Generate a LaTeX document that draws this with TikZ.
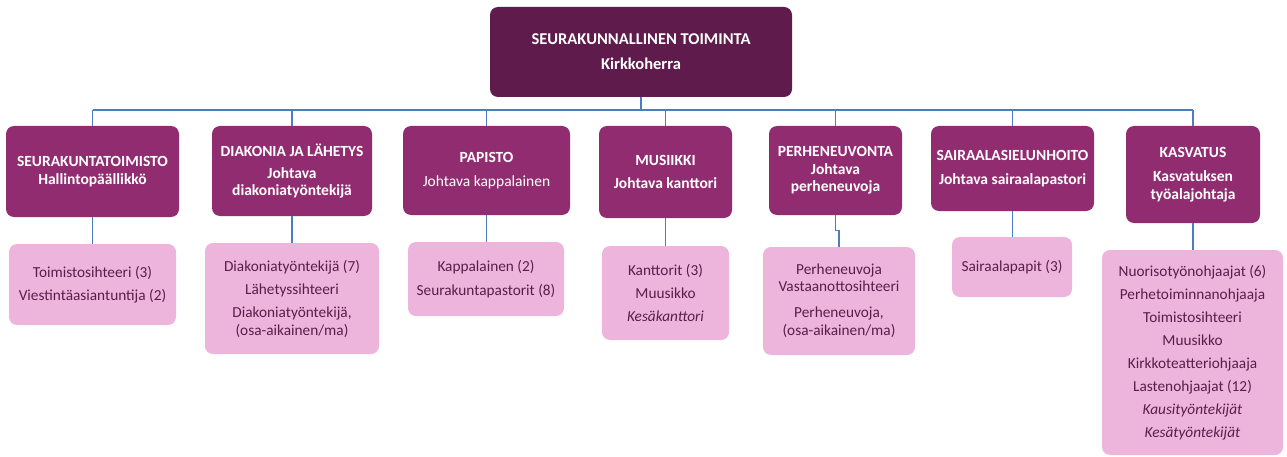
\documentclass[tikz,border=0pt]{standalone}
\usepackage{fontspec}
\setmainfont{Carlito}
\definecolor{topc}{RGB}{94,27,75}
\definecolor{midc}{RGB}{146,44,113}
\definecolor{lowc}{RGB}{237,180,220}
\definecolor{lowtxt}{RGB}{90,30,74}
\definecolor{linec}{RGB}{74,126,192}
\tikzset{
  topbox/.style={fill=topc, text=white, rounded corners=8pt, inner sep=0pt, align=center, font=\fontsize{16.5}{20}\selectfont\bfseries},
  midbox/.style={fill=midc, text=white, rounded corners=8pt, inner sep=0pt, align=center, font=\fontsize{15.5}{17.5}\selectfont},
  lowbox/.style={fill=lowc, text=lowtxt, rounded corners=8pt, inner sep=0pt, align=center, font=\fontsize{15.3}{19}\selectfont},
  conn/.style={draw=linec, line width=1.2pt}
}
\begin{document}
\begin{tikzpicture}[x=1pt,y=-1pt]
\useasboundingbox (0,0) rectangle (1287,457);
% top
\node[topbox, minimum width=302pt, minimum height=90pt] (top) at (641,52) {SEURAKUNNALLINEN TOIMINTA\\[5pt]Kirkkoherra};
% level 2
\node[midbox, minimum width=173pt, minimum height=91pt] (a2) at (92.5,171.5) {\bfseries SEURAKUNTATOIMISTO\\\bfseries Hallintopäällikkö};
\node[midbox, minimum width=160pt, minimum height=90pt] (b2) at (292,171) {\bfseries DIAKONIA JA LÄHETYS\\[4.5pt]\bfseries Johtava\\\bfseries diakoniatyöntekijä};
\node[midbox, minimum width=167pt, minimum height=89pt] (c2) at (486.5,170.5) {\bfseries PAPISTO\\[6.5pt]Johtava kappalainen};
\node[midbox, minimum width=133pt, minimum height=92pt] (d2) at (665.5,172) {\bfseries MUSIIKKI\\[5.5pt]\bfseries Johtava kanttori};
\node[midbox, minimum width=133pt, minimum height=89pt] (e2) at (835.5,170.5) {\bfseries PERHENEUVONTA\\\bfseries Johtava\\\bfseries perheneuvoja};
\node[midbox, minimum width=163pt, minimum height=85pt] (f2) at (1012.5,168.5) {\bfseries SAIRAALASIELUNHOITO\\[6.5pt]\bfseries Johtava sairaalapastori};
\node[midbox, minimum width=134pt, minimum height=97pt] (g2) at (1193,174.5) {\bfseries KASVATUS\\[6.5pt]\bfseries Kasvatuksen\\\bfseries työalajohtaja};
% level 3
\node[lowbox, minimum width=167pt, minimum height=81pt] (a3) at (92.5,284.5) {Toimistosihteeri (3)\\[4.5pt]Viestintäasiantuntija (2)};
\node[lowbox, minimum width=174pt, minimum height=111pt] (b3) at (292,298.5) {Diakoniatyöntekijä (7)\\[4pt]Lähetyssihteeri\\[4pt]Diakoniatyöntekijä,\\[-1pt](osa-aikainen/ma)};
\node[lowbox, minimum width=156pt, minimum height=74pt] (c3) at (486,279) {Kappalainen (2)\\[4.5pt]Seurakuntapastorit (8)};
\node[lowbox, minimum width=127pt, minimum height=94pt] (d3) at (665.5,293) {Kanttorit (3)\\[4pt]Muusikko\\[4pt]\itshape Kesäkanttori};
\node[lowbox, minimum width=152pt, minimum height=108pt] (e3) at (839,301) {Perheneuvoja\\[-2pt]Vastaanottosihteeri\\[7pt]Perheneuvoja,\\[-1pt](osa-aikainen/ma)};
\node[lowbox, minimum width=120pt, minimum height=60pt] (f3) at (1012,267) {Sairaalapapit (3)};
\node[lowbox, minimum width=181pt, minimum height=205pt] (g3) at (1192.5,352.5) {Nuorisotyönohjaajat (6)\\[4pt]Perhetoiminnanohjaaja\\[4pt]Toimistosihteeri\\[4pt]Muusikko\\[4pt]Kirkkoteatteriohjaaja\\[4pt]Lastenohjaajat (12)\\[4pt]\itshape Kausityöntekijät\\[4pt]\itshape Kesätyöntekijät};
% connectors
\coordinate (busL) at (92.5,110);
\coordinate (busR) at (1193,110);
\draw[conn] (top.south) -- (top.south |- busL);
\draw[conn] (busL) -- (busR);
\foreach \n in {a2,b2,c2,d2,e2,f2,g2} {
  \draw[conn] (\n.north |- busL) -- (\n.north);
}
\foreach \u/\l in {a2/a3,b2/b3,c2/c3,d2/d3,f2/f3,g2/g3} {
  \draw[conn] (\u.south) -- (\u.south |- \l.north);
}
\draw[conn] (e2.south) -- ++(0,15) -| (e3.north);
\end{tikzpicture}
\end{document}
